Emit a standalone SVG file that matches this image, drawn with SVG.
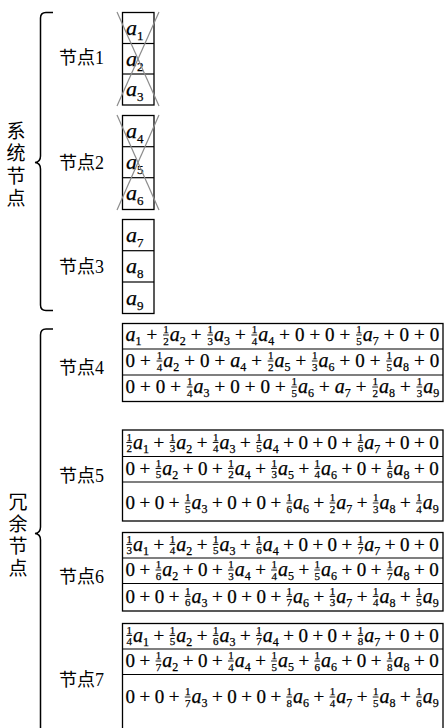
<svg xmlns="http://www.w3.org/2000/svg" width="446" height="728" viewBox="0 0 446 728">
<style>
.box{fill:#fff;stroke:#000;stroke-width:1.3}
.dv{stroke:#000;stroke-width:1.2}
.x{stroke:#8c8c8c;stroke-width:1.2}
.br{fill:none;stroke:#000;stroke-width:1.5}
.lb{font-family:"Liberation Serif","Noto Sans CJK SC",serif;font-size:18px}
.vl{font-family:"Noto Sans CJK SC",sans-serif;font-size:19px;text-anchor:middle}
.eq{font-family:"Liberation Serif",serif;font-size:19px;stroke:#000;stroke-width:0.25}
.it{font-style:italic;font-size:20px}
.sb{font-size:12px}
.fn{font-size:11px}
.itb{font-family:"Liberation Serif",serif;font-style:italic;font-size:22px;stroke:#000;stroke-width:0.25}
.sbb{font-style:normal;font-size:13px}
.fb{fill:none;stroke:#000;stroke-width:0.9}
</style>

<g id="connectors">
<path class="br" d="M53,12.5 H46 Q40.5,12.5 40.5,18 V156 Q40.5,162 35,162.5 Q40.5,163 40.5,169 V305 Q40.5,310.5 46,310.5 H53"/>
<path class="br" d="M53,329 H46 Q40.5,329 40.5,335 V527 Q40.5,533 35,533.5 Q40.5,534 40.5,540 V728"/>
</g>

<g id="group-system">
<text class="vl" x="16 16 16 16" y="138 160 183 205">系统节点</text>
</g>
<g id="group-redundant">
<text class="vl" x="18 18 18 18" y="509 531 553 575">冗余节点</text>
</g>

<g id="node1">
<text class="lb" x="59" y="64">节点1</text>
<rect class="box" x="122.5" y="12.5" width="31.5" height="92.5"/>
<line class="dv" x1="122.5" x2="154" y1="43.5" y2="43.5"/>
<line class="dv" x1="122.5" x2="154" y1="74" y2="74"/>
<text class="itb" x="126" y="35">a<tspan class="sbb" dy="5">1</tspan></text>
<text class="itb" x="126" y="65.5">a<tspan class="sbb" dy="5">2</tspan></text>
<text class="itb" x="126" y="96">a<tspan class="sbb" dy="5">3</tspan></text>
<line class="x" x1="117" y1="12" x2="159" y2="106"/>
<line class="x" x1="159" y1="12" x2="117" y2="106"/>
</g>

<g id="node2">
<text class="lb" x="59" y="169">节点2</text>
<rect class="box" x="122.5" y="115.5" width="31.5" height="94"/>
<line class="dv" x1="122.5" x2="154" y1="146.7" y2="146.7"/>
<line class="dv" x1="122.5" x2="154" y1="177.7" y2="177.7"/>
<text class="itb" x="126" y="138">a<tspan class="sbb" dy="5">4</tspan></text>
<text class="itb" x="126" y="169">a<tspan class="sbb" dy="5">5</tspan></text>
<text class="itb" x="126" y="200">a<tspan class="sbb" dy="5">6</tspan></text>
<line class="x" x1="117" y1="115" x2="159" y2="210"/>
<line class="x" x1="159" y1="115" x2="117" y2="210"/>
</g>

<g id="node3">
<text class="lb" x="59" y="273">节点3</text>
<rect class="box" x="122.5" y="219.5" width="31.5" height="94"/>
<line class="dv" x1="122.5" x2="154" y1="250.7" y2="250.7"/>
<line class="dv" x1="122.5" x2="154" y1="282" y2="282"/>
<text class="itb" x="126" y="242">a<tspan class="sbb" dy="5">7</tspan></text>
<text class="itb" x="126" y="273">a<tspan class="sbb" dy="5">8</tspan></text>
<text class="itb" x="126" y="305">a<tspan class="sbb" dy="5">9</tspan></text>
</g>

<g id="node4">
<text class="lb" x="59" y="374">节点4</text>
<rect class="box" x="122.5" y="323.5" width="320.5" height="78"/>
<line class="dv" x1="122.5" x2="443" y1="349" y2="349"/>
<line class="dv" x1="122.5" x2="443" y1="375" y2="375"/>
<text class="eq" x="125.5" y="341"><tspan class="it">a</tspan><tspan class="sb" dy="4">1</tspan><tspan dx="5" dy="-4">+</tspan><tspan class="fn" dx="6" dy="-8">1</tspan><tspan class="fn" dx="-5.5" dy="11.5">2</tspan><tspan class="it" dx="1" dy="-3.5">a</tspan><tspan class="sb" dy="4">2</tspan><tspan dx="5" dy="-4">+</tspan><tspan class="fn" dx="6" dy="-8">1</tspan><tspan class="fn" dx="-5.5" dy="11.5">3</tspan><tspan class="it" dx="1" dy="-3.5">a</tspan><tspan class="sb" dy="4">3</tspan><tspan dx="5" dy="-4">+</tspan><tspan class="fn" dx="6" dy="-8">1</tspan><tspan class="fn" dx="-5.5" dy="11.5">4</tspan><tspan class="it" dx="1" dy="-3.5">a</tspan><tspan class="sb" dy="4">4</tspan><tspan dx="5" dy="-4">+</tspan><tspan dx="5">0</tspan><tspan dx="5">+</tspan><tspan dx="5">0</tspan><tspan dx="5">+</tspan><tspan class="fn" dx="6" dy="-8">1</tspan><tspan class="fn" dx="-5.5" dy="11.5">5</tspan><tspan class="it" dx="1" dy="-3.5">a</tspan><tspan class="sb" dy="4">7</tspan><tspan dx="5" dy="-4">+</tspan><tspan dx="5">0</tspan><tspan dx="5">+</tspan><tspan dx="5">0</tspan></text>
<path class="fb" d="M163.05,335h5.8M207.25,335h5.8M251.45,335h5.8M356.05,335h5.8"/>
<text class="eq" x="125.5" y="367">0<tspan dx="5">+</tspan><tspan class="fn" dx="6" dy="-8">1</tspan><tspan class="fn" dx="-5.5" dy="11.5">4</tspan><tspan class="it" dx="1" dy="-3.5">a</tspan><tspan class="sb" dy="4">2</tspan><tspan dx="5" dy="-4">+</tspan><tspan dx="5">0</tspan><tspan dx="5">+</tspan><tspan class="it" dx="5">a</tspan><tspan class="sb" dy="4">4</tspan><tspan dx="5" dy="-4">+</tspan><tspan class="fn" dx="6" dy="-8">1</tspan><tspan class="fn" dx="-5.5" dy="11.5">2</tspan><tspan class="it" dx="1" dy="-3.5">a</tspan><tspan class="sb" dy="4">5</tspan><tspan dx="5" dy="-4">+</tspan><tspan class="fn" dx="6" dy="-8">1</tspan><tspan class="fn" dx="-5.5" dy="11.5">3</tspan><tspan class="it" dx="1" dy="-3.5">a</tspan><tspan class="sb" dy="4">6</tspan><tspan dx="5" dy="-4">+</tspan><tspan dx="5">0</tspan><tspan dx="5">+</tspan><tspan class="fn" dx="6" dy="-8">1</tspan><tspan class="fn" dx="-5.5" dy="11.5">5</tspan><tspan class="it" dx="1" dy="-3.5">a</tspan><tspan class="sb" dy="4">8</tspan><tspan dx="5" dy="-4">+</tspan><tspan dx="5">0</tspan></text>
<path class="fb" d="M156.55,361h5.8M267.65,361h5.8M311.85,361h5.8M386.25,361h5.8"/>
<text class="eq" x="125.5" y="393">0<tspan dx="5">+</tspan><tspan dx="5">0</tspan><tspan dx="5">+</tspan><tspan class="fn" dx="6" dy="-8">1</tspan><tspan class="fn" dx="-5.5" dy="11.5">4</tspan><tspan class="it" dx="1" dy="-3.5">a</tspan><tspan class="sb" dy="4">3</tspan><tspan dx="5" dy="-4">+</tspan><tspan dx="5">0</tspan><tspan dx="5">+</tspan><tspan dx="5">0</tspan><tspan dx="5">+</tspan><tspan class="fn" dx="6" dy="-8">1</tspan><tspan class="fn" dx="-5.5" dy="11.5">5</tspan><tspan class="it" dx="1" dy="-3.5">a</tspan><tspan class="sb" dy="4">6</tspan><tspan dx="5" dy="-4">+</tspan><tspan class="it" dx="5">a</tspan><tspan class="sb" dy="4">7</tspan><tspan dx="5" dy="-4">+</tspan><tspan class="fn" dx="6" dy="-8">1</tspan><tspan class="fn" dx="-5.5" dy="11.5">2</tspan><tspan class="it" dx="1" dy="-3.5">a</tspan><tspan class="sb" dy="4">8</tspan><tspan dx="5" dy="-4">+</tspan><tspan class="fn" dx="6" dy="-8">1</tspan><tspan class="fn" dx="-5.5" dy="11.5">3</tspan><tspan class="it" dx="1" dy="-3.5">a</tspan><tspan class="sb" dy="4">9</tspan></text>
<path class="fb" d="M186.75,387h5.8M291.35,387h5.8M372.25,387h5.8M416.45,387h5.8"/>
</g>

<g id="node5">
<text class="lb" x="59" y="482">节点5</text>
<rect class="box" x="122.5" y="430" width="320.5" height="91"/>
<line class="dv" x1="122.5" x2="443" y1="456.5" y2="456.5"/>
<line class="dv" x1="122.5" x2="443" y1="482" y2="482"/>
<text class="eq" x="125.5" y="448.5"><tspan class="fn" dx="1" dy="-8">1</tspan><tspan class="fn" dx="-5.5" dy="11.5">2</tspan><tspan class="it" dx="1" dy="-3.5">a</tspan><tspan class="sb" dy="4">1</tspan><tspan dx="4.5" dy="-4">+</tspan><tspan class="fn" dx="5.5" dy="-8">1</tspan><tspan class="fn" dx="-5.5" dy="11.5">3</tspan><tspan class="it" dx="1" dy="-3.5">a</tspan><tspan class="sb" dy="4">2</tspan><tspan dx="4.5" dy="-4">+</tspan><tspan class="fn" dx="5.5" dy="-8">1</tspan><tspan class="fn" dx="-5.5" dy="11.5">4</tspan><tspan class="it" dx="1" dy="-3.5">a</tspan><tspan class="sb" dy="4">3</tspan><tspan dx="4.5" dy="-4">+</tspan><tspan class="fn" dx="5.5" dy="-8">1</tspan><tspan class="fn" dx="-5.5" dy="11.5">5</tspan><tspan class="it" dx="1" dy="-3.5">a</tspan><tspan class="sb" dy="4">4</tspan><tspan dx="4.5" dy="-4">+</tspan><tspan dx="4.5">0</tspan><tspan dx="4.5">+</tspan><tspan dx="4.5">0</tspan><tspan dx="4.5">+</tspan><tspan class="fn" dx="5.5" dy="-8">1</tspan><tspan class="fn" dx="-5.5" dy="11.5">6</tspan><tspan class="it" dx="1" dy="-3.5">a</tspan><tspan class="sb" dy="4">7</tspan><tspan dx="4.5" dy="-4">+</tspan><tspan dx="4.5">0</tspan><tspan dx="4.5">+</tspan><tspan dx="4.5">0</tspan></text>
<path class="fb" d="M126.35,442.5h5.8M169.55,442.5h5.8M212.75,442.5h5.8M255.95,442.5h5.8M357.55,442.5h5.8"/>
<text class="eq" x="125.5" y="474.5">0<tspan dx="4.5">+</tspan><tspan class="fn" dx="5.5" dy="-8">1</tspan><tspan class="fn" dx="-5.5" dy="11.5">5</tspan><tspan class="it" dx="1" dy="-3.5">a</tspan><tspan class="sb" dy="4">2</tspan><tspan dx="4.5" dy="-4">+</tspan><tspan dx="4.5">0</tspan><tspan dx="4.5">+</tspan><tspan class="fn" dx="5.5" dy="-8">1</tspan><tspan class="fn" dx="-5.5" dy="11.5">2</tspan><tspan class="it" dx="1" dy="-3.5">a</tspan><tspan class="sb" dy="4">4</tspan><tspan dx="4.5" dy="-4">+</tspan><tspan class="fn" dx="5.5" dy="-8">1</tspan><tspan class="fn" dx="-5.5" dy="11.5">3</tspan><tspan class="it" dx="1" dy="-3.5">a</tspan><tspan class="sb" dy="4">5</tspan><tspan dx="4.5" dy="-4">+</tspan><tspan class="fn" dx="5.5" dy="-8">1</tspan><tspan class="fn" dx="-5.5" dy="11.5">4</tspan><tspan class="it" dx="1" dy="-3.5">a</tspan><tspan class="sb" dy="4">6</tspan><tspan dx="4.5" dy="-4">+</tspan><tspan dx="4.5">0</tspan><tspan dx="4.5">+</tspan><tspan class="fn" dx="5.5" dy="-8">1</tspan><tspan class="fn" dx="-5.5" dy="11.5">6</tspan><tspan class="it" dx="1" dy="-3.5">a</tspan><tspan class="sb" dy="4">8</tspan><tspan dx="4.5" dy="-4">+</tspan><tspan dx="4.5">0</tspan></text>
<path class="fb" d="M155.55,468.5h5.8M227.95,468.5h5.8M271.15,468.5h5.8M314.35,468.5h5.8M386.75,468.5h5.8"/>
<text class="eq" x="125.5" y="509">0<tspan dx="4.5">+</tspan><tspan dx="4.5">0</tspan><tspan dx="4.5">+</tspan><tspan class="fn" dx="5.5" dy="-8">1</tspan><tspan class="fn" dx="-5.5" dy="11.5">5</tspan><tspan class="it" dx="1" dy="-3.5">a</tspan><tspan class="sb" dy="4">3</tspan><tspan dx="4.5" dy="-4">+</tspan><tspan dx="4.5">0</tspan><tspan dx="4.5">+</tspan><tspan dx="4.5">0</tspan><tspan dx="4.5">+</tspan><tspan class="fn" dx="5.5" dy="-8">1</tspan><tspan class="fn" dx="-5.5" dy="11.5">6</tspan><tspan class="it" dx="1" dy="-3.5">a</tspan><tspan class="sb" dy="4">6</tspan><tspan dx="4.5" dy="-4">+</tspan><tspan class="fn" dx="5.5" dy="-8">1</tspan><tspan class="fn" dx="-5.5" dy="11.5">2</tspan><tspan class="it" dx="1" dy="-3.5">a</tspan><tspan class="sb" dy="4">7</tspan><tspan dx="4.5" dy="-4">+</tspan><tspan class="fn" dx="5.5" dy="-8">1</tspan><tspan class="fn" dx="-5.5" dy="11.5">3</tspan><tspan class="it" dx="1" dy="-3.5">a</tspan><tspan class="sb" dy="4">8</tspan><tspan dx="4.5" dy="-4">+</tspan><tspan class="fn" dx="5.5" dy="-8">1</tspan><tspan class="fn" dx="-5.5" dy="11.5">4</tspan><tspan class="it" dx="1" dy="-3.5">a</tspan><tspan class="sb" dy="4">9</tspan></text>
<path class="fb" d="M184.75,503h5.8M286.35,503h5.8M329.55,503h5.8M372.75,503h5.8M415.95,503h5.8"/>
</g>

<g id="node6">
<text class="lb" x="59" y="583">节点6</text>
<rect class="box" x="122.5" y="532.5" width="320.5" height="78.5"/>
<line class="dv" x1="122.5" x2="443" y1="558" y2="558"/>
<line class="dv" x1="122.5" x2="443" y1="583.5" y2="583.5"/>
<text class="eq" x="125.5" y="550.5"><tspan class="fn" dx="1" dy="-8">1</tspan><tspan class="fn" dx="-5.5" dy="11.5">3</tspan><tspan class="it" dx="1" dy="-3.5">a</tspan><tspan class="sb" dy="4">1</tspan><tspan dx="4.5" dy="-4">+</tspan><tspan class="fn" dx="5.5" dy="-8">1</tspan><tspan class="fn" dx="-5.5" dy="11.5">4</tspan><tspan class="it" dx="1" dy="-3.5">a</tspan><tspan class="sb" dy="4">2</tspan><tspan dx="4.5" dy="-4">+</tspan><tspan class="fn" dx="5.5" dy="-8">1</tspan><tspan class="fn" dx="-5.5" dy="11.5">5</tspan><tspan class="it" dx="1" dy="-3.5">a</tspan><tspan class="sb" dy="4">3</tspan><tspan dx="4.5" dy="-4">+</tspan><tspan class="fn" dx="5.5" dy="-8">1</tspan><tspan class="fn" dx="-5.5" dy="11.5">6</tspan><tspan class="it" dx="1" dy="-3.5">a</tspan><tspan class="sb" dy="4">4</tspan><tspan dx="4.5" dy="-4">+</tspan><tspan dx="4.5">0</tspan><tspan dx="4.5">+</tspan><tspan dx="4.5">0</tspan><tspan dx="4.5">+</tspan><tspan class="fn" dx="5.5" dy="-8">1</tspan><tspan class="fn" dx="-5.5" dy="11.5">7</tspan><tspan class="it" dx="1" dy="-3.5">a</tspan><tspan class="sb" dy="4">7</tspan><tspan dx="4.5" dy="-4">+</tspan><tspan dx="4.5">0</tspan><tspan dx="4.5">+</tspan><tspan dx="4.5">0</tspan></text>
<path class="fb" d="M126.35,544.5h5.8M169.55,544.5h5.8M212.75,544.5h5.8M255.95,544.5h5.8M357.55,544.5h5.8"/>
<text class="eq" x="125.5" y="576">0<tspan dx="4.5">+</tspan><tspan class="fn" dx="5.5" dy="-8">1</tspan><tspan class="fn" dx="-5.5" dy="11.5">6</tspan><tspan class="it" dx="1" dy="-3.5">a</tspan><tspan class="sb" dy="4">2</tspan><tspan dx="4.5" dy="-4">+</tspan><tspan dx="4.5">0</tspan><tspan dx="4.5">+</tspan><tspan class="fn" dx="5.5" dy="-8">1</tspan><tspan class="fn" dx="-5.5" dy="11.5">3</tspan><tspan class="it" dx="1" dy="-3.5">a</tspan><tspan class="sb" dy="4">4</tspan><tspan dx="4.5" dy="-4">+</tspan><tspan class="fn" dx="5.5" dy="-8">1</tspan><tspan class="fn" dx="-5.5" dy="11.5">4</tspan><tspan class="it" dx="1" dy="-3.5">a</tspan><tspan class="sb" dy="4">5</tspan><tspan dx="4.5" dy="-4">+</tspan><tspan class="fn" dx="5.5" dy="-8">1</tspan><tspan class="fn" dx="-5.5" dy="11.5">5</tspan><tspan class="it" dx="1" dy="-3.5">a</tspan><tspan class="sb" dy="4">6</tspan><tspan dx="4.5" dy="-4">+</tspan><tspan dx="4.5">0</tspan><tspan dx="4.5">+</tspan><tspan class="fn" dx="5.5" dy="-8">1</tspan><tspan class="fn" dx="-5.5" dy="11.5">7</tspan><tspan class="it" dx="1" dy="-3.5">a</tspan><tspan class="sb" dy="4">8</tspan><tspan dx="4.5" dy="-4">+</tspan><tspan dx="4.5">0</tspan></text>
<path class="fb" d="M155.55,570h5.8M227.95,570h5.8M271.15,570h5.8M314.35,570h5.8M386.75,570h5.8"/>
<text class="eq" x="125.5" y="602.5">0<tspan dx="4.5">+</tspan><tspan dx="4.5">0</tspan><tspan dx="4.5">+</tspan><tspan class="fn" dx="5.5" dy="-8">1</tspan><tspan class="fn" dx="-5.5" dy="11.5">6</tspan><tspan class="it" dx="1" dy="-3.5">a</tspan><tspan class="sb" dy="4">3</tspan><tspan dx="4.5" dy="-4">+</tspan><tspan dx="4.5">0</tspan><tspan dx="4.5">+</tspan><tspan dx="4.5">0</tspan><tspan dx="4.5">+</tspan><tspan class="fn" dx="5.5" dy="-8">1</tspan><tspan class="fn" dx="-5.5" dy="11.5">7</tspan><tspan class="it" dx="1" dy="-3.5">a</tspan><tspan class="sb" dy="4">6</tspan><tspan dx="4.5" dy="-4">+</tspan><tspan class="fn" dx="5.5" dy="-8">1</tspan><tspan class="fn" dx="-5.5" dy="11.5">3</tspan><tspan class="it" dx="1" dy="-3.5">a</tspan><tspan class="sb" dy="4">7</tspan><tspan dx="4.5" dy="-4">+</tspan><tspan class="fn" dx="5.5" dy="-8">1</tspan><tspan class="fn" dx="-5.5" dy="11.5">4</tspan><tspan class="it" dx="1" dy="-3.5">a</tspan><tspan class="sb" dy="4">8</tspan><tspan dx="4.5" dy="-4">+</tspan><tspan class="fn" dx="5.5" dy="-8">1</tspan><tspan class="fn" dx="-5.5" dy="11.5">5</tspan><tspan class="it" dx="1" dy="-3.5">a</tspan><tspan class="sb" dy="4">9</tspan></text>
<path class="fb" d="M184.75,596.5h5.8M286.35,596.5h5.8M329.55,596.5h5.8M372.75,596.5h5.8M415.95,596.5h5.8"/>
</g>

<g id="node7">
<text class="lb" x="59" y="686">节点7</text>
<rect class="box" x="122.5" y="623.5" width="320.5" height="106"/>
<line class="dv" x1="122.5" x2="443" y1="649" y2="649"/>
<line class="dv" x1="122.5" x2="443" y1="674.5" y2="674.5"/>
<text class="eq" x="125.5" y="641.5"><tspan class="fn" dx="1" dy="-8">1</tspan><tspan class="fn" dx="-5.5" dy="11.5">4</tspan><tspan class="it" dx="1" dy="-3.5">a</tspan><tspan class="sb" dy="4">1</tspan><tspan dx="4.5" dy="-4">+</tspan><tspan class="fn" dx="5.5" dy="-8">1</tspan><tspan class="fn" dx="-5.5" dy="11.5">5</tspan><tspan class="it" dx="1" dy="-3.5">a</tspan><tspan class="sb" dy="4">2</tspan><tspan dx="4.5" dy="-4">+</tspan><tspan class="fn" dx="5.5" dy="-8">1</tspan><tspan class="fn" dx="-5.5" dy="11.5">6</tspan><tspan class="it" dx="1" dy="-3.5">a</tspan><tspan class="sb" dy="4">3</tspan><tspan dx="4.5" dy="-4">+</tspan><tspan class="fn" dx="5.5" dy="-8">1</tspan><tspan class="fn" dx="-5.5" dy="11.5">7</tspan><tspan class="it" dx="1" dy="-3.5">a</tspan><tspan class="sb" dy="4">4</tspan><tspan dx="4.5" dy="-4">+</tspan><tspan dx="4.5">0</tspan><tspan dx="4.5">+</tspan><tspan dx="4.5">0</tspan><tspan dx="4.5">+</tspan><tspan class="fn" dx="5.5" dy="-8">1</tspan><tspan class="fn" dx="-5.5" dy="11.5">8</tspan><tspan class="it" dx="1" dy="-3.5">a</tspan><tspan class="sb" dy="4">7</tspan><tspan dx="4.5" dy="-4">+</tspan><tspan dx="4.5">0</tspan><tspan dx="4.5">+</tspan><tspan dx="4.5">0</tspan></text>
<path class="fb" d="M126.35,635.5h5.8M169.55,635.5h5.8M212.75,635.5h5.8M255.95,635.5h5.8M357.55,635.5h5.8"/>
<text class="eq" x="125.5" y="667">0<tspan dx="4.5">+</tspan><tspan class="fn" dx="5.5" dy="-8">1</tspan><tspan class="fn" dx="-5.5" dy="11.5">7</tspan><tspan class="it" dx="1" dy="-3.5">a</tspan><tspan class="sb" dy="4">2</tspan><tspan dx="4.5" dy="-4">+</tspan><tspan dx="4.5">0</tspan><tspan dx="4.5">+</tspan><tspan class="fn" dx="5.5" dy="-8">1</tspan><tspan class="fn" dx="-5.5" dy="11.5">4</tspan><tspan class="it" dx="1" dy="-3.5">a</tspan><tspan class="sb" dy="4">4</tspan><tspan dx="4.5" dy="-4">+</tspan><tspan class="fn" dx="5.5" dy="-8">1</tspan><tspan class="fn" dx="-5.5" dy="11.5">5</tspan><tspan class="it" dx="1" dy="-3.5">a</tspan><tspan class="sb" dy="4">5</tspan><tspan dx="4.5" dy="-4">+</tspan><tspan class="fn" dx="5.5" dy="-8">1</tspan><tspan class="fn" dx="-5.5" dy="11.5">6</tspan><tspan class="it" dx="1" dy="-3.5">a</tspan><tspan class="sb" dy="4">6</tspan><tspan dx="4.5" dy="-4">+</tspan><tspan dx="4.5">0</tspan><tspan dx="4.5">+</tspan><tspan class="fn" dx="5.5" dy="-8">1</tspan><tspan class="fn" dx="-5.5" dy="11.5">8</tspan><tspan class="it" dx="1" dy="-3.5">a</tspan><tspan class="sb" dy="4">8</tspan><tspan dx="4.5" dy="-4">+</tspan><tspan dx="4.5">0</tspan></text>
<path class="fb" d="M155.55,661h5.8M227.95,661h5.8M271.15,661h5.8M314.35,661h5.8M386.75,661h5.8"/>
<text class="eq" x="125.5" y="703">0<tspan dx="4.5">+</tspan><tspan dx="4.5">0</tspan><tspan dx="4.5">+</tspan><tspan class="fn" dx="5.5" dy="-8">1</tspan><tspan class="fn" dx="-5.5" dy="11.5">7</tspan><tspan class="it" dx="1" dy="-3.5">a</tspan><tspan class="sb" dy="4">3</tspan><tspan dx="4.5" dy="-4">+</tspan><tspan dx="4.5">0</tspan><tspan dx="4.5">+</tspan><tspan dx="4.5">0</tspan><tspan dx="4.5">+</tspan><tspan class="fn" dx="5.5" dy="-8">1</tspan><tspan class="fn" dx="-5.5" dy="11.5">8</tspan><tspan class="it" dx="1" dy="-3.5">a</tspan><tspan class="sb" dy="4">6</tspan><tspan dx="4.5" dy="-4">+</tspan><tspan class="fn" dx="5.5" dy="-8">1</tspan><tspan class="fn" dx="-5.5" dy="11.5">4</tspan><tspan class="it" dx="1" dy="-3.5">a</tspan><tspan class="sb" dy="4">7</tspan><tspan dx="4.5" dy="-4">+</tspan><tspan class="fn" dx="5.5" dy="-8">1</tspan><tspan class="fn" dx="-5.5" dy="11.5">5</tspan><tspan class="it" dx="1" dy="-3.5">a</tspan><tspan class="sb" dy="4">8</tspan><tspan dx="4.5" dy="-4">+</tspan><tspan class="fn" dx="5.5" dy="-8">1</tspan><tspan class="fn" dx="-5.5" dy="11.5">6</tspan><tspan class="it" dx="1" dy="-3.5">a</tspan><tspan class="sb" dy="4">9</tspan></text>
<path class="fb" d="M184.75,697h5.8M286.35,697h5.8M329.55,697h5.8M372.75,697h5.8M415.95,697h5.8"/>
</g>
</svg>
